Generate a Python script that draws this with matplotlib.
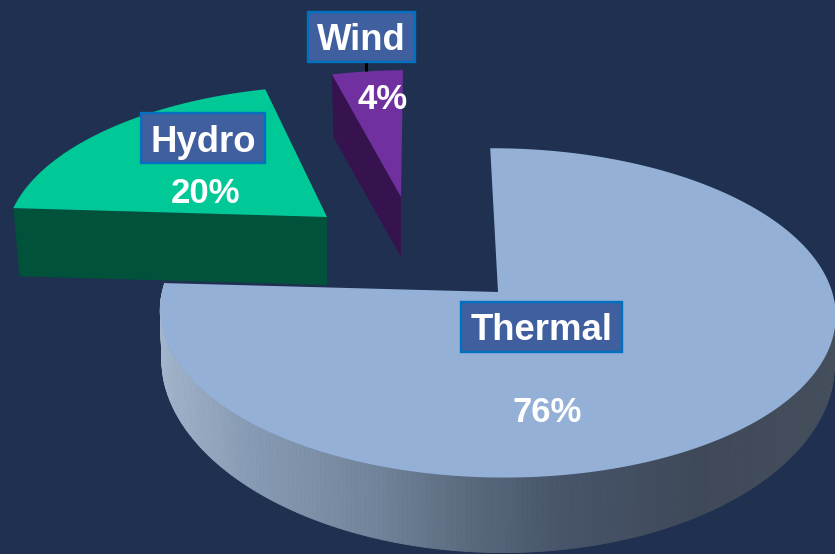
import numpy as np
import matplotlib
matplotlib.use('Agg')
import matplotlib.pyplot as plt
from matplotlib.collections import PolyCollection
from matplotlib.colors import LinearSegmentedColormap
from matplotlib.patches import Polygon, Rectangle

# Chart data
categories = ['Thermal', 'Hydro', 'Wind']
shares = [76, 20, 4]

# Look of the pie, all in image pixels
START_ANGLE = 91.5
PERSPECTIVE = 0.127
BG = '#1f3050'
top_colors = {'Thermal': '#94b0d6', 'Hydro': '#00c896', 'Wind': '#7030a0'}
side_colors = {'Hydro': '#00533a', 'Wind': '#36124f'}
# apex x, apex y, half width, half height, x shear, y shear
wedge_shape = {
    'Thermal': (498, 292, 335, 162, 0, 3),
    'Hydro': (327, 217, 316, 148, 18, 3.5),
    'Wind': (401, 197, 320, 143, 10.6, 0),
}
wedge_depth = {'Hydro': 68, 'Wind': 60}
label_boxes = {
    'Thermal': (461, 302, 161, 50),
    'Hydro': (141, 113, 124, 50),
    'Wind': (308, 12, 107, 50),
}
percent_pos = {'Thermal': (547, 409), 'Hydro': (206, 190), 'Wind': (383, 96)}

wall_cmap = LinearSegmentedColormap.from_list('wall', [
    (0.00, '#a3b5cb'), (0.12, '#8a9db6'), (0.32, '#71849b'), (0.46, '#5a6a7e'),
    (0.60, '#47546a'), (0.80, '#3f4959'), (1.00, '#454f5c'),
])


def rim_point(name, angle):
    px, py, a, b, e, f = wedge_shape[name]
    rad = np.radians(angle)
    w = 1 + PERSPECTIVE * np.sin(rad)
    x = px + (a * np.cos(rad) + e * np.sin(rad)) / w
    y = py + (f * np.cos(rad) - b * np.sin(rad)) / w
    return x, y


def wedge_angles():
    # slices run clockwise from the start angle
    angles = {}
    current = START_ANGLE
    for name, share in zip(categories, shares):
        sweep = 360 * share / sum(shares)
        angles[name] = (current, current - sweep)
        current -= sweep
    return angles


def draw_top(ax, name, start, end, zorder):
    t = np.linspace(start, end, 300)
    x, y = rim_point(name, t)
    px, py = wedge_shape[name][:2]
    pts = np.column_stack([np.r_[px, x], np.r_[py, y]])
    ax.add_patch(Polygon(pts, closed=True, fc=top_colors[name], ec='none', zorder=zorder))


def draw_radial_wall(ax, name, angle, zorder):
    # the flat cut face of an exploded slice
    px, py = wedge_shape[name][:2]
    x, y = rim_point(name, angle)
    d = wedge_depth[name]
    xb = px + (x - px) * 0.98
    yb = py + (y - py) * 0.98 + d
    pts = [(px, py), (x, y), (xb, yb), (px, py + d)]
    ax.add_patch(Polygon(pts, closed=True, fc=side_colors[name], ec='none', zorder=zorder))


def draw_outer_wall(ax, name, start, end, zorder):
    # curved front of the big slice, shaded from left to right
    t = np.linspace(start, end, 240)
    x, y = rim_point(name, t)
    px = wedge_shape[name][0]
    depth = 50 + 25 * np.clip(-np.sin(np.radians(t)), 0, None) ** 1.5
    xb = px + (x - px) * 0.995
    yb = y + depth
    quads = []
    shade = []
    for i in range(len(t) - 1):
        quads.append([(x[i], y[i]), (x[i + 1], y[i + 1]), (xb[i + 1], yb[i + 1]), (xb[i], yb[i])])
        shade.append(((x[i] + x[i + 1]) / 2 - 160) / 675)
    colors = wall_cmap(np.clip(shade, 0, 1))
    ax.add_collection(PolyCollection(quads, facecolors=colors, edgecolors=colors,
                                     linewidths=0.6, zorder=zorder))


def main():
    fig = plt.figure(figsize=(8.35, 5.54), dpi=100, facecolor=BG)
    ax = fig.add_axes([0, 0, 1, 1])
    ax.set_xlim(0, 835)
    ax.set_ylim(554, 0)
    ax.axis('off')

    angles = wedge_angles()

    # Hydro and Wind sit behind, Thermal goes on top of them
    for name in ['Hydro', 'Wind']:
        start, end = angles[name]
        draw_radial_wall(ax, name, start, 2)
        draw_top(ax, name, start, end, 3)

    start, end = angles['Thermal']
    draw_outer_wall(ax, 'Thermal', end, -2, 4)
    draw_top(ax, 'Thermal', start, end, 5)

    # Leader between the Wind label and its slice
    bx, by, bw, bh = label_boxes['Wind']
    ax.plot([bx + bw / 2 + 4] * 2, [by + bh, by + bh + 9], color='black', lw=2.2,
            solid_capstyle='butt', zorder=6)

    font = {'family': ['Liberation Sans', 'DejaVu Sans'], 'weight': 'bold', 'color': 'white'}
    for name, share in zip(categories, shares):
        bx, by, bw, bh = label_boxes[name]
        ax.add_patch(Rectangle((bx, by), bw, bh, fc='#3f5f9f', ec='#0070c0', lw=1.7, zorder=7))
        ax.text(bx + bw / 2, by + bh / 2, name, ha='center', va='center_baseline',
                fontsize=26.3, zorder=8, **font)
        tx, ty = percent_pos[name]
        ax.text(tx, ty, f'{share}%', ha='center', va='center_baseline',
                fontsize=25, zorder=8, **font)

    fig.savefig('out.png', dpi=100, facecolor=BG)


if __name__ == "__main__":
    main()
